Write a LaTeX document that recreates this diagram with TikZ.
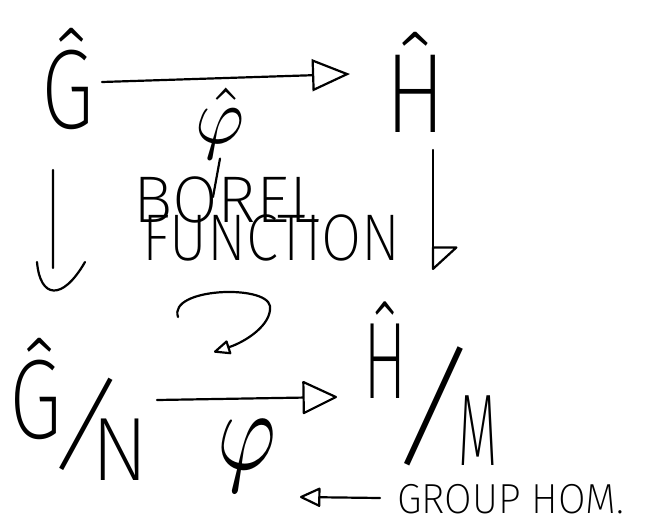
\documentclass[tikz,border=0pt]{standalone}
\usepackage{fontspec}
\setmainfont{Fira Sans ExtraLight}
\usetikzlibrary{arrows.meta}
\newcommand\sqz[2]{\scalebox{#1}[1]{#2}}
\begin{document}
\begin{tikzpicture}[x=1pt,y=-1pt, line width=2.2pt, line cap=round, line join=round,
  txt/.style={inner sep=0pt, outer sep=0pt}]
\useasboundingbox (0,0) rectangle (656,520);
% top row
\node[txt, anchor=base, font=\fontsize{113}{113}\selectfont] (G1) at (68,128) {\sqz{0.76}{Ĝ}};
\node[txt, anchor=base, font=\fontsize{113}{113}\selectfont] (H1) at (416,132) {\sqz{0.8}{Ĥ}};
% bottom row
\node[txt, anchor=base, font=\fontsize{113}{113}\selectfont] (G2) at (36,438) {\sqz{0.76}{Ĝ}};
\node[txt, font=\fontsize{112}{112}\selectfont] (s1) at (86,424) {\rotatebox{-14}{/}};
\node[txt, anchor=base, font=\fontsize{90}{90}\selectfont] (N) at (120,480) {\sqz{0.95}{N}};
\node[txt, anchor=base, font=\fontsize{109}{109}\selectfont] (H2) at (385,398) {\sqz{0.6}{Ĥ}};
\node[txt, font=\fontsize{140}{140}\selectfont] (s2) at (434,406) {\rotatebox{-10}{/}};
\node[txt, anchor=base, font=\fontsize{102}{102}\selectfont] (M) at (478,465) {\sqz{0.5}{M}};
% labels
\node[txt, anchor=base] (phihat) at (220,143) {\scalebox{7.5}[8]{$\hat{\varphi}$}};
\node[txt, anchor=base west, font=\fontsize{66}{66}\selectfont] (borel) at (133,222) {BOREL};
\node[txt, anchor=base west, font=\fontsize{66}{66}\selectfont] (func) at (142,260) {\sqz{0.88}{FUNCTION}};
\node[txt, anchor=base] (phi) at (247,469) {\scalebox{9}[11.5]{$\varphi$}};
\node[txt, anchor=base west, text depth=0pt, font=\fontsize{42}{42}\selectfont] (ghom) at (397,513) {\sqz{0.95}{GROUP HOM.}};
% named ends
\coordinate (sT) at (102,82);
\coordinate (tT) at (350,74);
\coordinate (sL) at (53,170);
\coordinate (tL) at (53,268);
\coordinate (sR) at (433,150);
\coordinate (tR) at (433,270);
\coordinate (sB) at (157,400);
\coordinate (tB) at (337,397);
\coordinate (bstem) at (213,197);
\coordinate (sg) at (380,498);
\coordinate (gtip) at (300,497);
\coordinate (c1) at (178,317);
\coordinate (c2) at (270,306);
\coordinate (c3) at (214,352);
% connectors
\draw[-{Triangle[open,length=38pt,width=32pt]}] (sT) -- (tT);
\draw (sL) -- (tL) (37,262) .. controls (40,298) and (62,302) .. (85,262);
\draw[-{Triangle[open,round,harpoon,length=24pt,width=52pt]}] (sR) -- (tR);
\draw[-{Triangle[open,round,length=36pt,width=34pt]}] (sB) -- (tB);
\draw (phihat.south) -- (bstem);
\draw[-{Triangle[open,round,length=22pt,width=20pt]}] (sg) -- (gtip);
\draw[-{Triangle[open,round,length=18pt,width=15pt]}] (c1) .. controls (168,288) and (266,284) .. (c2) .. controls (272,325) and (245,342) .. (c3);
\end{tikzpicture}
\end{document}
